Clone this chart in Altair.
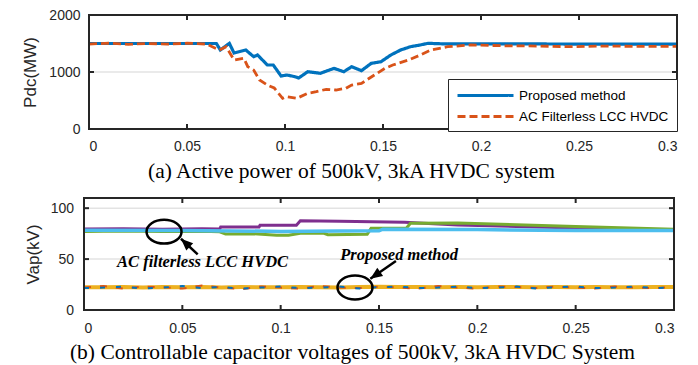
import altair as alt
import pandas as pd

# ---------------- data: panel (a) ----------------
series_names = ["Proposed method", "AC Filterless LCC HVDC"]
series_colors = ["#0072BD", "#D95319"]

t_prop = [0, 0.02, 0.04, 0.065, 0.067, 0.0716, 0.074, 0.080, 0.084, 0.086, 0.091, 0.094,
          0.098, 0.101, 0.105, 0.107, 0.1116, 0.118, 0.125, 0.130, 0.134, 0.139, 0.144,
          0.149, 0.154, 0.159, 0.164, 0.169, 0.173, 0.18, 0.2, 0.25, 0.3]
p_prop = [1500, 1500, 1500, 1500, 1386, 1503, 1333, 1386, 1269, 1298, 1123, 1123,
          930, 947, 918, 895, 1005, 977, 1064, 1005, 1093, 1023, 1152,
          1181, 1298, 1386, 1444, 1474, 1503, 1495, 1495, 1490, 1490]

t_ac = [0, 0.01, 0.02, 0.03, 0.04, 0.05, 0.06, 0.0665, 0.07, 0.074, 0.079, 0.081, 0.084,
        0.087, 0.091, 0.0945, 0.0988, 0.101, 0.106, 0.1116, 0.116, 0.121, 0.126, 0.131,
        0.134, 0.139, 0.1456, 0.151, 0.155, 0.163, 0.169, 0.1745, 0.183, 0.195, 0.212,
        0.23, 0.246, 0.26, 0.28, 0.3]
p_ac = [1490, 1505, 1485, 1500, 1490, 1505, 1490, 1386, 1444, 1210, 1240, 1093, 1035,
        860, 772, 719, 538, 567, 538, 626, 655, 696, 684, 713,
        772, 800, 947, 1064, 1123, 1210, 1298, 1386, 1444, 1474, 1460,
        1455, 1444, 1455, 1450, 1450]

x_ticks = [0, 0.05, 0.1, 0.15, 0.2, 0.25, 0.3]
x_inner_ticks = [0.05, 0.1, 0.15, 0.2, 0.25]
top_y_ticks = [0, 1000, 2000]
top_grid = [1000]
bot_y_ticks = [0, 50, 100]
bot_grid = [50, 100]

# ---------------- data: panel (b) ----------------
t_purple = [0, 0.02, 0.04, 0.06, 0.069, 0.0695, 0.089, 0.0895, 0.108, 0.11, 0.13, 0.163,
            0.19, 0.22, 0.26, 0.3]
v_purple = [79.5, 79.8, 79.4, 79.8, 79.6, 81.5, 81.5, 83.3, 83.3, 87.6, 87.2, 86.2,
            83.5, 82, 80, 78.6]

t_green = [0, 0.02, 0.04, 0.06, 0.069, 0.072, 0.085, 0.098, 0.104, 0.11, 0.122, 0.124,
           0.144, 0.146, 0.164, 0.166, 0.19, 0.25, 0.3]
v_green = [77.2, 77.6, 77, 77.4, 76.8, 74.6, 75, 73.4, 73.4, 75.3, 75.3, 74,
           74.5, 80.2, 80.5, 85.2, 85.5, 82, 79.2]

t_cyan = [0, 0.05, 0.1, 0.13, 0.15, 0.152, 0.2, 0.25, 0.3]
v_cyan = [78.4, 78.2, 77.2, 77.6, 77.8, 79.4, 79, 78, 78]

t_low = [0, 0.01, 0.02, 0.03, 0.04, 0.05, 0.06, 0.07, 0.08, 0.09, 0.1, 0.11, 0.12, 0.13,
         0.14, 0.15, 0.16, 0.17, 0.18, 0.19, 0.2, 0.21, 0.22, 0.23, 0.24, 0.25, 0.26,
         0.27, 0.28, 0.29, 0.3]
v_orange = [22, 23.5, 21, 23, 22.5, 21, 24, 22, 20.5, 23, 22, 21, 23.5, 22, 21.5, 23,
            22, 21, 23.5, 22, 21, 23, 22.5, 21.5, 23, 22, 21, 23, 22, 21.5, 22.5]
v_blue = [21.5, 22, 23, 21, 22, 23.5, 21.5, 22.5, 21, 22, 23, 21.5, 22, 23, 21, 22.5,
          23, 21.5, 22, 23, 21.5, 22, 23, 21, 22.5, 23, 21.5, 22, 23, 21.5, 22]
v_yellow = [22.4, 22.3, 22.6, 22.2, 22.5, 22.3, 22.6, 22.2, 22.5, 22.4, 22.3, 22.6, 22.4,
            22.2, 22.5, 22.8, 22.6, 22.5, 22.4, 22.6, 22.4, 22.5, 22.6, 22.3, 22.5, 22.4,
            22.5, 22.3, 22.4, 22.5, 22.5]

# annotations (data coordinates)
ell_t = [0.0407, 0.1378]
ell_v = [76.9, 22.1]
arrow_t_tail = [0.0578, 0.1586]
arrow_v_tail = [54.7, 48.1]
arrow_t_tip = [0.0493, 0.1456]
arrow_v_tip = [70.0, 30.7]
arrow_angle = [313, 235]
note_t = [0.0603, 0.1602]
note_v = [47.6, 54.0]
note_text = ["AC filterless LCC HVDC", "Proposed method"]

# ---------------- styling ----------------
SANS = "Liberation Sans"
SERIF = "Liberation Serif"
INK = "#262626"
GRID = "#e3e3e3"

W1, H1 = 593, 114
W2, H2 = 590, 112

# ---------------- panel (a) ----------------
df_prop = pd.DataFrame({"t": t_prop, "v": p_prop, "series": series_names[0]})
df_ac = pd.DataFrame({"t": t_ac, "v": p_ac, "series": series_names[1]})

x_top = alt.X("t:Q",
              scale=alt.Scale(domain=[0, 0.3], range=[5, W1], nice=False, zero=False),
              axis=alt.Axis(values=x_ticks, format="~g", domain=False, ticks=False, grid=False,
                            labelPadding=10, labelFontSize=14, labelFont=SANS, labelColor=INK,
                            title="(a) Active power of 500kV, 3kA HVDC system",
                            titleFont=SERIF, titleFontSize=21.5, titleFontWeight="normal",
                            titleColor="black", titleX=267, titleY=48,
                            titleBaseline="alphabetic", titleAlign="center"))
y_top = alt.Y("v:Q",
              scale=alt.Scale(domain=[0, 2000], nice=False),
              axis=alt.Axis(values=top_y_ticks, format="d", domain=False, ticks=False,
                            grid=False,
                            labelPadding=4, labelFontSize=14, labelFont=SANS, labelColor=INK,
                            title="Pdc(MW)", titleFont=SANS, titleFontSize=17,
                            titleFontWeight="normal", titleColor=INK, titleX=-54, titleY=57,
                            titleAngle=270, titleBaseline="middle", titleAlign="center"))

legend = alt.Legend(title=None, orient="none", legendX=364, legendY=64, direction="vertical",
                    symbolType="M-4,0H4", symbolSize=196, symbolStrokeWidth=3,
                    symbolOffset=21, labelOffset=25,
                    labelFontSize=13.5, labelFont=SANS, labelColor="black",
                    fillColor="white", strokeColor=INK, padding=8, rowPadding=6)
color_enc = alt.Color("series:N", scale=alt.Scale(domain=series_names, range=series_colors),
                      legend=legend)
dash_enc = alt.StrokeDash("series:N",
                          scale=alt.Scale(domain=series_names, range=[[1, 0], [8, 4]]),
                          legend=legend)

grid_top = alt.Chart(pd.DataFrame({"t": [0] * len(top_grid), "t2": [0.3] * len(top_grid),
                                   "v": top_grid})).mark_rule(
    color=GRID, strokeWidth=1.5).encode(x=x_top, x2="t2:Q", y=y_top)

line_prop = alt.Chart(df_prop).mark_line(strokeWidth=3.2).encode(
    x=x_top, y=y_top, color=color_enc, strokeDash=dash_enc, order="t:Q")
line_ac = alt.Chart(df_ac).mark_line(strokeWidth=2.8).encode(
    x=x_top, y=y_top, color=color_enc, strokeDash=dash_enc, order="t:Q")

frame_top = alt.Chart(pd.DataFrame({"t": [0], "t2": [0.3], "v": [0], "v2": [2000]})).mark_rect(
    fillOpacity=0, stroke=INK, strokeWidth=2).encode(x=x_top, x2="t2:Q", y=y_top, y2="v2:Q")

xt_df = pd.DataFrame({"t": x_inner_ticks})
ticks_top_b = alt.Chart(xt_df).mark_rule(color=INK, strokeWidth=2).encode(
    x=x_top, y=alt.value(H1), y2=alt.value(H1 - 5))
ticks_top_t = alt.Chart(xt_df).mark_rule(color=INK, strokeWidth=2).encode(
    x=x_top, y=alt.value(0), y2=alt.value(5))
yt_top_df = pd.DataFrame({"v": top_grid})
ticks_top_l = alt.Chart(yt_top_df).mark_rule(color=INK, strokeWidth=2).encode(
    y=y_top, x=alt.value(5), x2=alt.value(10))
ticks_top_r = alt.Chart(yt_top_df).mark_rule(color=INK, strokeWidth=2).encode(
    y=y_top, x=alt.value(W1), x2=alt.value(W1 - 5))

top = alt.layer(grid_top, line_prop, line_ac, frame_top,
                ticks_top_b, ticks_top_t, ticks_top_l, ticks_top_r).properties(
    width=W1, height=H1)

# ---------------- panel (b) ----------------
x_bot = alt.X("t:Q",
              scale=alt.Scale(domain=[0, 0.3], nice=False, zero=False),
              axis=alt.Axis(values=x_ticks, format="~g", domain=False, ticks=False, grid=False,
                            labelPadding=11, labelFontSize=14, labelFont=SANS, labelColor=INK,
                            title="(b) Controllable capacitor voltages of 500kV, 3kA HVDC System",
                            titleFont=SERIF, titleFontSize=21.5, titleFontWeight="normal",
                            titleColor="black", titleX=268, titleY=48,
                            titleBaseline="alphabetic", titleAlign="center"))
y_bot = alt.Y("v:Q",
              scale=alt.Scale(domain=[0, 110], nice=False),
              axis=alt.Axis(values=bot_y_ticks, domain=False, ticks=False, grid=False,
                            labelPadding=10.5, labelFontSize=14, labelFont=SANS, labelColor=INK,
                            title="Vap(kV)", titleFont=SANS, titleFontSize=17,
                            titleFontWeight="normal", titleColor=INK, titleX=-51, titleY=56,
                            titleAngle=270, titleBaseline="middle", titleAlign="center"))

grid_bot = alt.Chart(pd.DataFrame({"t": [0] * len(bot_grid), "t2": [0.3] * len(bot_grid),
                                   "v": bot_grid})).mark_rule(
    color=GRID, strokeWidth=1.5).encode(x=x_bot, x2="t2:Q", y=y_bot)


def line(ts, vs, color, width, dash=None):
    kw = dict(color=color, strokeWidth=width)
    if dash:
        kw["strokeDash"] = dash
    return alt.Chart(pd.DataFrame({"t": ts, "v": vs})).mark_line(**kw).encode(
        x=x_bot, y=y_bot, order="t:Q")


l_purple = line(t_purple, v_purple, "#7E2F8E", 3)
l_green = line(t_green, v_green, "#77AC30", 3)
l_cyan = line(t_cyan, v_cyan, "#4DBEEE", 3.5)
l_yellow = line(t_low, v_yellow, "#EDB120", 4)
l_orange = line(t_low, v_orange, "#D95319", 2, [7, 9])
l_blue = line(t_low, v_blue, "#0072BD", 2, [5, 11])

frame_bot = alt.Chart(pd.DataFrame({"t": [0], "t2": [0.3], "v": [0], "v2": [110]})).mark_rect(
    fillOpacity=0, stroke=INK, strokeWidth=2).encode(x=x_bot, x2="t2:Q", y=y_bot, y2="v2:Q")

ticks_bot_b = alt.Chart(xt_df).mark_rule(color=INK, strokeWidth=2).encode(
    x=x_bot, y=alt.value(H2), y2=alt.value(H2 - 5))
ticks_bot_t = alt.Chart(xt_df).mark_rule(color=INK, strokeWidth=2).encode(
    x=x_bot, y=alt.value(0), y2=alt.value(5))
yt_bot_df = pd.DataFrame({"v": bot_grid})
ticks_bot_l = alt.Chart(yt_bot_df).mark_rule(color=INK, strokeWidth=2).encode(
    y=y_bot, x=alt.value(0), x2=alt.value(5))
ticks_bot_r = alt.Chart(yt_bot_df).mark_rule(color=INK, strokeWidth=2).encode(
    y=y_bot, x=alt.value(W2), x2=alt.value(W2 - 5))

ell_df = pd.DataFrame({"t": ell_t, "v": ell_v})
ellipses = alt.Chart(ell_df).mark_point(
    shape="M-1,0A1,0.68,0,1,0,1,0A1,0.68,0,1,0,-1,0Z", size=1225, filled=False,
    stroke="black", strokeWidth=2.5, opacity=1).encode(x=x_bot, y=y_bot)

arr_df = pd.DataFrame({"t": arrow_t_tail, "v": arrow_v_tail,
                       "t2": arrow_t_tip, "v2": arrow_v_tip})
arrow_shafts = alt.Chart(arr_df).mark_rule(color="black", strokeWidth=2.5).encode(
    x=x_bot, y=y_bot, x2="t2:Q", y2="v2:Q")
head_df = pd.DataFrame({"t": arrow_t_tip, "v": arrow_v_tip, "ang": arrow_angle})
arrow_heads = alt.Chart(head_df).mark_point(
    shape="M0,0L0.42,1L-0.42,1Z", size=576, filled=True, color="black", opacity=1).encode(
    x=x_bot, y=y_bot, angle=alt.Angle("ang:Q", scale=None))

note_df = pd.DataFrame({"t": note_t, "v": note_v, "label": note_text})
notes = alt.Chart(note_df).mark_text(
    font=SERIF, fontStyle="italic", fontWeight="bold", fontSize=16.5, color="black",
    baseline="middle", align="center").encode(x=x_bot, y=y_bot, text="label:N")

bottom = alt.layer(grid_bot, l_purple, l_green, l_cyan, l_yellow, l_orange, l_blue, frame_bot,
                   ticks_bot_b, ticks_bot_t, ticks_bot_l, ticks_bot_r,
                   ellipses, arrow_shafts, arrow_heads, notes).properties(width=W2, height=H2)

chart = alt.vconcat(top, bottom, spacing=15).configure_view(stroke=None).properties(
    padding={"left": 21, "top": 8, "right": 5, "bottom": 5}, background="white")

chart.save("out.html", embed_options={"renderer": "svg", "actions": False})
